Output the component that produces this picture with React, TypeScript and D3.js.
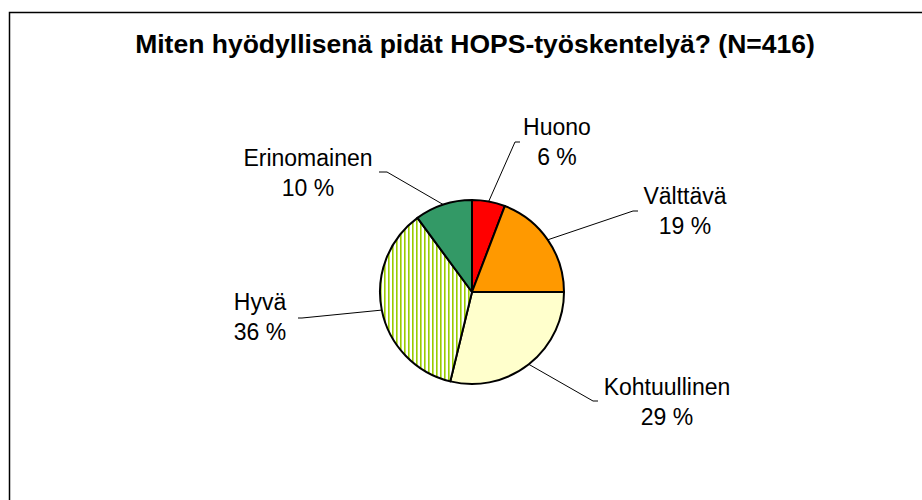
import { useMemo } from 'react';
import * as d3 from 'd3';

const title = 'Miten hyödyllisenä pidät HOPS-työskentelyä? (N=416)';
const categories = ['Huono', 'Välttävä', 'Kohtuullinen', 'Hyvä', 'Erinomainen'];
const shares = [5.8, 19.2, 28.8, 36.1, 10.1];
const shareLabels = ['6 %', '19 %', '29 %', '36 %', '10 %'];
const fills = ['#ff0000', '#ff9900', '#ffffcc', 'url(#hyvaStripes)', '#339966'];

// where each label sits (text centre, first baseline) and where its leader line ends
const labelLayout = [
  { x: 557, y: 135, lx: 515, ly: 142, hx: 520 },
  { x: 685, y: 204, lx: 633, ly: 211, hx: 638 },
  { x: 667, y: 395, lx: 593, ly: 401, hx: 598 },
  { x: 260, y: 310, lx: 302, ly: 318, hx: 298 },
  { x: 308, y: 166, lx: 387, ly: 172, hx: 379 },
];

const W = 922;
const H = 500;
const cx = 472;
const cy = 292;
const radius = 92;
const font = '"Liberation Sans", Arial, Helvetica, sans-serif';

export default function App() {
  const slices = useMemo(() => {
    const pie = d3
      .pie<number>()
      .sort(null)
      .value((d) => d);
    return pie(shares);
  }, []);

  const arc = d3.arc<d3.PieArcDatum<number>>().innerRadius(0).outerRadius(radius);

  return (
    <svg
      width={W}
      height={H}
      style={{ position: 'absolute', left: 0, top: 0, background: '#fff' }}
    >
      <defs>
        <pattern id="hyvaStripes" width={4} height={4} patternUnits="userSpaceOnUse">
          <rect width={4} height={4} fill="#ffffff" />
          <rect x={0} width={1.6} height={4} fill="#99cc00" />
        </pattern>
      </defs>

      {/* chart area frame, runs off the right and bottom edges */}
      <rect x={9.5} y={12.5} width={W + 20} height={H + 20} fill="#fff" stroke="#000" strokeWidth={1.5} />

      <text
        x={475}
        y={53}
        textAnchor="middle"
        fontFamily={font}
        fontWeight="bold"
        fontSize={26.5}
        fill="#000"
      >
        {title}
      </text>

      <g transform={`translate(${cx},${cy})`}>
        {slices.map((s, i) => (
          <path key={categories[i]} d={arc(s) ?? ''} fill={fills[i]} stroke="#000" strokeWidth={2} strokeLinejoin="round" />
        ))}
      </g>

      {slices.map((s, i) => {
        const mid = (s.startAngle + s.endAngle) / 2;
        const px = cx + radius * Math.sin(mid);
        const py = cy - radius * Math.cos(mid);
        const l = labelLayout[i];
        return (
          <g key={categories[i]}>
            <polyline
              points={`${px},${py} ${l.lx},${l.ly} ${l.hx},${l.ly}`}
              fill="none"
              stroke="#000"
              strokeWidth={1}
            />
            <text x={l.x} y={l.y} textAnchor="middle" fontFamily={font} fontSize={23} fill="#000">
              {categories[i]}
            </text>
            <text x={l.x} y={l.y + 30} textAnchor="middle" fontFamily={font} fontSize={23} fill="#000">
              {shareLabels[i]}
            </text>
          </g>
        );
      })}
    </svg>
  );
}
